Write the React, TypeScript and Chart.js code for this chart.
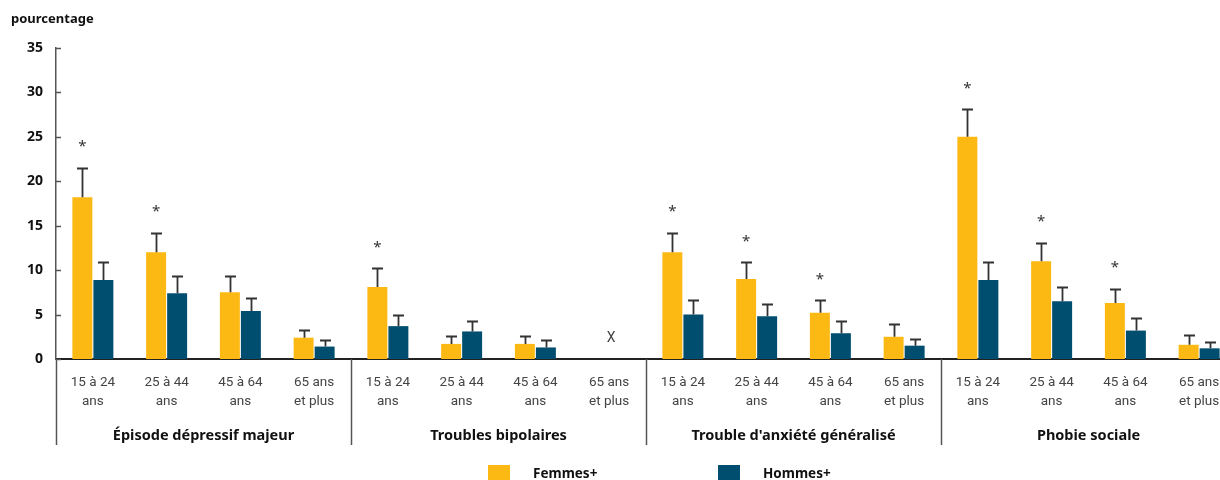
import React, { useEffect, useRef } from 'react';
import { Chart, registerables } from 'chart.js';

Chart.register(...registerables);

const ageGroups: string[][] = [
  ['15 à 24', 'ans'],
  ['25 à 44', 'ans'],
  ['45 à 64', 'ans'],
  ['65 ans', 'et plus'],
];
const disorders = [
  'Épisode dépressif majeur',
  'Troubles bipolaires',
  "Trouble d'anxiété généralisé",
  'Phobie sociale',
];
const categories: string[][] = disorders.flatMap(() => ageGroups);

const femmes = [18.2, 12.0, 7.5, 2.4, 8.1, 1.7, 1.7, null, 12.0, 9.0, 5.2, 2.5, 25.0, 11.0, 6.3, 1.6];
const femmesUpper = [21.5, 14.2, 9.3, 3.3, 10.2, 2.6, 2.6, null, 14.2, 10.9, 6.6, 3.9, 28.1, 13.1, 7.9, 2.7];
const hommes = [8.9, 7.4, 5.4, 1.4, 3.7, 3.1, 1.3, null, 5.0, 4.8, 2.9, 1.5, 8.9, 6.5, 3.2, 1.2];
const hommesUpper = [10.9, 9.3, 6.9, 2.1, 4.9, 4.3, 2.1, null, 6.6, 6.2, 4.3, 2.2, 10.9, 8.1, 4.6, 1.9];
const femmesSignificant = [true, true, false, false, true, false, false, false, true, true, true, false, true, true, true, false];
const suppressed = [false, false, false, false, false, false, false, true, false, false, false, false, false, false, false, false];

const yTicks = [0, 5, 10, 15, 20, 25, 30, 35];
const seriesNames = ['Femmes+', 'Hommes+'];
const seriesColors = ['#FDB913', '#004E6F'];

const BOLD_TITLE = "bold 14.5px 'Noto Sans'";
const BOLD_LEGEND = "bold 13.5px 'Noto Sans'";

const overlay = {
  id: 'overlay',
  afterDatasetsDraw(chart: any) {
    const ctx = chart.ctx as CanvasRenderingContext2D;
    const y = chart.scales.y;
    const x = chart.scales.x;
    const area = chart.chartArea;
    const uppers = [femmesUpper, hommesUpper];
    ctx.save();
    ctx.strokeStyle = '#333';
    ctx.lineWidth = 1.8;
    [0, 1].forEach((d) => {
      const meta = chart.getDatasetMeta(d);
      meta.data.forEach((bar: any, i: number) => {
        const up = uppers[d][i];
        const v = d === 0 ? femmes[i] : hommes[i];
        if (up == null || v == null) return;
        const bx = Math.round(bar.x) + 0.5;
        const y0 = y.getPixelForValue(v);
        const y1 = Math.round(y.getPixelForValue(up)) + 0.5;
        ctx.beginPath();
        ctx.moveTo(bx, y0);
        ctx.lineTo(bx, y1);
        ctx.moveTo(bx - 5.5, y1);
        ctx.lineTo(bx + 5.5, y1);
        ctx.stroke();
      });
    });
    ctx.fillStyle = '#333';
    ctx.font = "15px 'Noto Sans'";
    ctx.textAlign = 'center';
    ctx.textBaseline = 'alphabetic';
    const meta0 = chart.getDatasetMeta(0);
    femmesSignificant.forEach((s, i) => {
      const up = femmesUpper[i];
      if (!s || up == null) return;
      const bx = meta0.data[i].x;
      const cy = y.getPixelForValue(up) - 25;
      ctx.fillText('*', bx, cy + 8.5);
    });
    ctx.font = '14px Roboto';
    ctx.fillStyle = '#444';
    suppressed.forEach((s, i) => {
      if (!s) return;
      ctx.textBaseline = 'middle';
      ctx.fillText('X', x.getPixelForValue(i) + 2, area.bottom - 21);
    });
    ctx.restore();
  },
  afterDraw(chart: any) {
    const ctx = chart.ctx as CanvasRenderingContext2D;
    const x = chart.scales.x;
    const y = chart.scales.y;
    const area = chart.chartArea;
    ctx.save();
    ctx.strokeStyle = '#555';
    ctx.lineWidth = 1.5;
    yTicks.forEach((t) => {
      const py = Math.round(y.getPixelForValue(t)) + 0.5;
      ctx.beginPath();
      ctx.moveTo(area.left, py);
      ctx.lineTo(area.left + 5, py);
      ctx.stroke();
    });
    const lineBottom = 445;
    const bounds: number[] = [area.left];
    for (let g = 1; g < disorders.length; g++) {
      const i = g * ageGroups.length;
      bounds.push((x.getPixelForValue(i - 1) + x.getPixelForValue(i)) / 2);
    }
    ctx.strokeStyle = '#555';
    ctx.lineWidth = 1.5;
    bounds.forEach((bx) => {
      const px = Math.round(bx) + 0.5;
      ctx.beginPath();
      ctx.moveTo(px, area.bottom);
      ctx.lineTo(px, lineBottom);
      ctx.stroke();
    });
    ctx.fillStyle = '#111';
    ctx.font = BOLD_TITLE;
    ctx.textAlign = 'center';
    ctx.textBaseline = 'middle';
    disorders.forEach((name, g) => {
      const a = x.getPixelForValue(g * ageGroups.length);
      const b = x.getPixelForValue(g * ageGroups.length + ageGroups.length - 1);
      ctx.fillText(name, (a + b) / 2, 436);
    });
    ctx.textAlign = 'left';
    ctx.font = "bold 13px 'Noto Sans'";
    ctx.fillText('pourcentage', 11, 19);
    const legendX = [488, 718];
    seriesNames.forEach((n, k) => {
      ctx.fillStyle = seriesColors[k];
      ctx.fillRect(legendX[k], 465, 22, 22);
      ctx.fillStyle = '#111';
      ctx.font = BOLD_LEGEND;
      ctx.textAlign = 'left';
      ctx.textBaseline = 'middle';
      ctx.fillText(n, legendX[k] + 45, 474);
    });
    ctx.restore();
  },
};

export default function App() {
  const ref = useRef<HTMLCanvasElement | null>(null);
  useEffect(() => {
    if (!ref.current) return;
    const chart = new Chart(ref.current, {
      type: 'bar',
      data: {
        labels: categories,
        datasets: [
          { label: seriesNames[0], data: femmes, backgroundColor: seriesColors[0], borderWidth: 0, categoryPercentage: 0.57, barPercentage: 0.95 },
          { label: seriesNames[1], data: hommes, backgroundColor: seriesColors[1], borderWidth: 0, categoryPercentage: 0.57, barPercentage: 0.95 },
        ],
      },
      options: {
        animation: false,
        responsive: false,
        maintainAspectRatio: false,
        devicePixelRatio: 1,
        layout: { padding: { top: 48, left: 0, right: 4, bottom: 0 } },
        plugins: { legend: { display: false }, tooltip: { enabled: false }, title: { display: false } },
        scales: {
          x: {
            grid: { display: false, drawTicks: false },
            border: { display: true, color: '#222', width: 2 },
            ticks: {
              autoSkip: false,
              maxRotation: 0,
              minRotation: 0,
              padding: 14.5,
              color: '#444',
              font: { family: 'Roboto', size: 13.5, lineHeight: 1.38 },
            },
            afterFit: (s: any) => { s.height = 121; },
          },
          y: {
            min: 0,
            max: 35,
            grid: { display: false, drawTicks: false },
            border: { display: true, color: '#555', width: 1.5 },
            ticks: {
              stepSize: 5,
              padding: 13,
              color: '#111',
              font: { family: 'Noto Sans', size: 14, weight: 'bold' },
            },
            afterFit: (s: any) => { s.width = 56; s.paddingTop = 0; s.paddingBottom = 0; },
          },
        },
      },
      plugins: [overlay],
    });
    return () => chart.destroy();
  }, []);
  return (
    <div style={{ position: 'fixed', left: 0, top: 0, width: 1220, height: 480, overflow: 'hidden', background: '#fff' }}>
      <canvas ref={ref} width={1240} height={480} style={{ display: 'block' }} />
    </div>
  );
}
